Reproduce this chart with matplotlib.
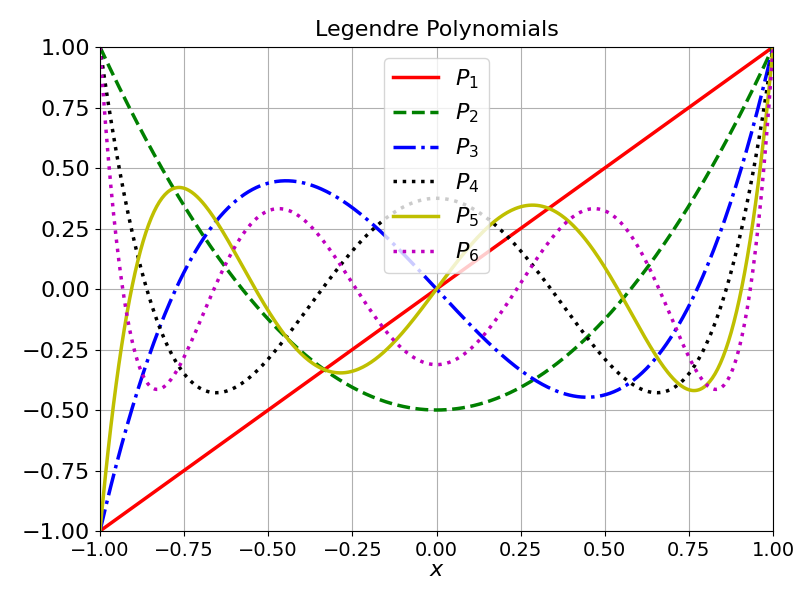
import numpy as np
import matplotlib
matplotlib.use("Agg")
import matplotlib.pyplot as plt

# Legendre polynomial coefficients (highest power first)
P1 = [1, 0]
P2 = [1.5, 0, -0.5]
P3 = [2.5, 0, -1.5, 0]
P4 = [35/8, 0, -30/8, 0, 3/8]
P5 = [63/8, 0, -70/8, 0, 15/8, 0]
P6 = [231/16, 0, -315/16, 0, 105/16, 0, -5/16]
coeffs = [P1, P2, P3, P4, P5, P6]
labels = ["$P_1$", "$P_2$", "$P_3$", "$P_4$", "$P_5$", "$P_6$"]
colors = ["r", "g", "b", "k", "y", "m"]
styles = ["-", "--", "-.", ":", "-", ":"]
xticks = [-1.0, -0.75, -0.5, -0.25, 0.0, 0.25, 0.5, 0.75, 1.0]

x = np.linspace(-1, 1, 500)
fig = plt.figure(figsize=(7.98, 5.9), dpi=100)
ax = fig.add_axes([0.1253, 0.1, 0.8434, 0.8203])
for c, lab, col, ls in zip(coeffs, labels, colors, styles):
    ax.plot(x, np.polyval(c, x), color=col, ls=ls, lw=2.5, label=lab)
ax.set_xlim(-1, 1)
ax.set_ylim(-1, 1)
ax.set_xticks(xticks)
ax.set_yticks(xticks)
ax.tick_params(axis="x", labelsize=14)
ax.tick_params(axis="y", labelsize=16)
ax.grid(True)
ax.set_title("Legendre Polynomials", fontsize=16, pad=8)
ax.set_xlabel("$x$", fontsize=16, labelpad=0)
ax.legend(loc="upper center", fontsize=16)
fig.savefig("out.png", dpi=100)
